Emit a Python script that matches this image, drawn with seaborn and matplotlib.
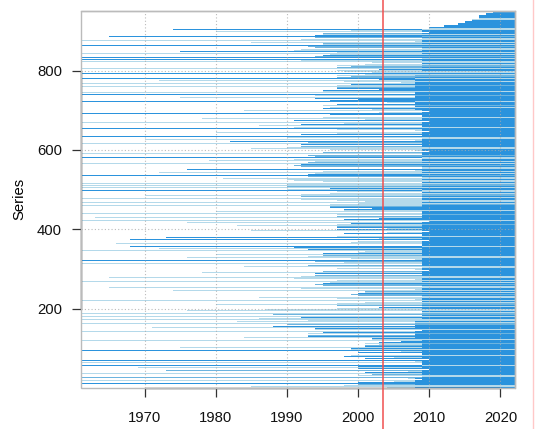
import numpy as np
import pandas as pd
import seaborn as sns
import matplotlib
matplotlib.use("Agg")
import matplotlib.pyplot as plt
from matplotlib.colors import ListedColormap
from matplotlib.patches import Rectangle
from matplotlib.lines import Line2D
import matplotlib.transforms as mtrans

# ---------------- data ----------------
years = list(range(1961, 2022))
n_series = 950
band_size = 25
# per band of 25 series (bottom to top)
mid_start = [1997, 1999, 2000, 1998, 2001, 1993, 1988, 1986, 1997, 1997,
             1992, 1991, 1990, 1992, 1991, 1996, 1997, 1997, 1996, 1992,
             1990, 1990, 1989, 1991, 1989, 1989, 1990, 1994, 1995, 1994,
             1997, 1997, 1997, 1992, 1991, 1991, 1992, 2016]
mid_count = [19, 17, 16, 16, 22, 16, 14, 14, 18, 18,
             18, 19, 18, 19, 18, 16, 16, 16, 18, 19,
             18, 18, 18, 16, 18, 18, 16, 18, 19, 19,
             18, 18, 16, 19, 19, 19, 16, 0]
dense_start = [2008, 2009, 2009, 2009, 2009, 2008, 2008, 2009, 2009, 2009,
               2009, 2009, 2009, 2009, 2009, 2009, 2009, 2009, 2009, 2009,
               2009, 2009, 2009, 2009, 2009, 2009, 2009, 2009, 2008, 2008,
               2008, 2008, 2009, 2009, 2009, 2009, 2009, 2016]
# newest series (top staircase), groups of 5 from series 906
top_first = 906
top_group_start = [2010, 2012, 2014, 2015, 2016, 2017, 2017, 2018, 2019]
# long series pairs visible in the early years (1 light, 2 medium, 3 dark)
long_series = [904, 900, 896, 886, 877, 872, 865, 858, 850, 844, 834, 829, 823,
               815, 806, 793, 782, 776, 768, 760, 752, 745, 741, 733, 724, 712, 709,
               700, 692, 680, 671, 662, 655, 645, 635, 628, 622, 617, 605, 592, 582,
               575, 566, 558, 551, 545, 537, 530, 525, 516, 511, 506, 499,
               487, 478, 469, 461, 452, 445, 441, 430, 423, 418, 410, 398, 389, 381,
               375, 366, 358, 352, 347, 338, 330, 322, 314, 308, 301, 292, 280, 270,
               263, 255, 246, 238, 230, 221, 212, 196, 188, 181, 173, 168, 163, 154,
               144, 137, 128, 121, 112, 104, 96, 89, 84, 79, 70, 66, 58, 52, 45,
               37, 28, 20, 12, 5]
long_start = [1974, 1980, 1961, 1965, 1961, 1985, 1961, 1978, 1975, 1961, 1961, 1961, 1961,
              1983, 1961, 1961, 1961, 1972, 1961, 1961, 1980, 1961, 1961, 1975, 1961, 1961, 1965,
              1984, 1961, 1978, 1961, 1986, 1961, 1980, 1961, 1970, 1982, 1961, 1985, 1961, 1961,
              1979, 1961, 1984, 1976, 1972, 1961, 1981, 1961, 1961, 1961, 1961, 1961,
              1970, 1961, 1961, 1961, 1961, 1980, 1961, 1963, 1961, 1976, 1983, 1985, 1961, 1973,
              1968, 1966, 1968, 1972, 1961, 1980, 1976, 1961, 1961, 1984, 1961, 1978, 1965, 1961,
              1982, 1965, 1974, 1961, 1986, 1961, 1980, 1976, 1961, 1961, 1961, 1983, 1961, 1971,
              1961, 1978, 1984, 1961, 1980, 1975, 1961, 1961, 1977, 1961, 1961, 1961, 1961, 1969, 1973,
              1961, 1961, 1961, 1961, 1985]
long_shade = [3, 1, 3, 3, 1, 1, 3, 1, 3, 1, 3, 3, 1,
              1, 1, 3, 3, 1, 1, 1, 1, 1, 3, 1, 3, 1, 3,
              1, 3, 1, 1, 1, 3, 1, 3, 1, 3, 1, 1, 1, 3,
              1, 1, 1, 3, 1, 3, 1, 3, 1, 1, 1, 3,
              1, 1, 1, 1, 1, 1, 1, 1, 1, 1, 1, 1, 1, 3,
              3, 1, 3, 1, 1, 1, 1, 3, 1, 1, 1, 1, 1, 1,
              1, 1, 1, 1, 1, 1, 1, 1, 1, 1, 1, 1, 1, 1,
              1, 1, 1, 1, 1, 1, 3, 2, 1, 1, 3, 1, 3, 1, 2,
              1, 2, 1, 3, 1]
split_year = 2003.5

# within-band arrangement (position -> rank) and staggers
ORDER = [0, 12, 5, 18, 9, 22, 2, 15, 7, 20, 11, 24, 4, 17, 1, 14, 8, 21, 3, 16, 10, 23, 6, 19, 13]
MID_OFFSETS = [0, 2, 1, 4, 0, 6, 1, 3, 8, 0, 5, 2, 7, 1, 4, 0, 9, 3, 1, 6, 2, 5, 0, 7, 3]
DENSE_OFFSETS = [0, 0, -1, 0, 1, 0, 0, -1, 0, 0, 1, 0, -1, 0, 0, 0, 1, 0, 0, -1, 0, 0, 0, 1, 0]

long_map = {}
for s, st, sh in zip(long_series, long_start, long_shade):
    long_map[s] = (st, sh)
    long_map[s - 1] = (st, sh)

mat = np.full((n_series, len(years)), np.nan)
for s in range(1, n_series + 1):
    b = (s - 1) // band_size
    r = ORDER[(s - 1) % band_size]
    dense = dense_start[b]
    if r < mid_count[b]:
        start = min(mid_start[b] + MID_OFFSETS[r], dense)
        pre = 3 if r % 4 == 1 else (2 if r % 4 == 3 else 1)
    else:
        start = dense + DENSE_OFFSETS[r]
        pre = 1
    post = 1 if r % 4 == 2 else (2 if r % 7 == 4 else 3)
    if s in long_map:
        start, pre = long_map[s]
    if s >= top_first:
        start = top_group_start[(s - top_first) // 5]
        dense = start
    for j, yv in enumerate(years):
        if yv >= start:
            mat[s - 1, j] = pre if yv < dense else post

df = pd.DataFrame(mat, index=range(1, n_series + 1), columns=years)

# ---------------- plot ----------------
plt.rcParams["font.family"] = ["Liberation Sans", "DejaVu Sans"]

fig = plt.figure(figsize=(5.35, 4.29), dpi=100)
ax = fig.add_axes([0.1508, 0.0956, 0.8112, 0.8795])

cmap = ListedColormap(["#B4D9EA", "#6CB4DF", "#2B93DD"])
sns.heatmap(df, ax=ax, cmap=cmap, vmin=0.5, vmax=3.5, cbar=False,
            xticklabels=False, yticklabels=False)
ax.set_ylim(0, 951)
ax.set_xlim(0, len(years))

xt = [1970, 1980, 1990, 2000, 2010, 2020]
yt = [200, 400, 600, 800]
ax.set_xticks([y - years[0] for y in xt])
ax.set_xticklabels([str(y) for y in xt], fontsize=10.7)
ax.set_yticks(yt)
ax.set_yticklabels([str(v) for v in yt], fontsize=10.7, rotation=0)
ax.set_xlabel("")
ax.set_ylabel("Series", fontsize=10.7)
ax.yaxis.set_label_coords(-0.126, 0.5)

# dotted grid on top
for y in xt:
    ax.axvline(y - years[0], color="#AAAAAA", lw=0.8, ls=(0, (1, 2)), zorder=3, alpha=0.8)
for v in yt:
    ax.axhline(v, color="#AAAAAA", lw=0.8, ls=(0, (1, 2)), zorder=3, alpha=0.8)

# box and R-style axes
for sp in ax.spines.values():
    sp.set_visible(True)
    sp.set_color("#BBBBBB")
    sp.set_linewidth(1.0)
ax.spines["left"].set_color("#333333")
ax.spines["bottom"].set_color("#333333")
ax.spines["left"].set_bounds(200, 800)
ax.spines["bottom"].set_bounds(xt[0] - years[0], xt[-1] - years[0])
ax.add_patch(Rectangle((0, 0), 1, 1, transform=ax.transAxes, fill=False,
                       edgecolor="#BBBBBB", lw=1.0, zorder=4, clip_on=False))
ax.tick_params(axis="x", direction="out", length=6.5, width=0.9, color="#333333",
               pad=10, bottom=True, labelcolor="#111111")
ax.tick_params(axis="y", direction="out", length=6.5, width=0.9, color="#333333",
               pad=7, left=True, labelcolor="#111111")

# split line spanning the whole figure height
tr = mtrans.blended_transform_factory(ax.transData, fig.transFigure)
fig.add_artist(Line2D([split_year - years[0]] * 2, [0, 1], transform=tr,
                      color="#F05050", lw=1.1, zorder=10))
fig.add_artist(Line2D([0.996, 0.996], [0, 1], transform=fig.transFigure,
                      color="#FFC8C8", lw=1.0, zorder=10))

fig.savefig("out.png", dpi=100)
